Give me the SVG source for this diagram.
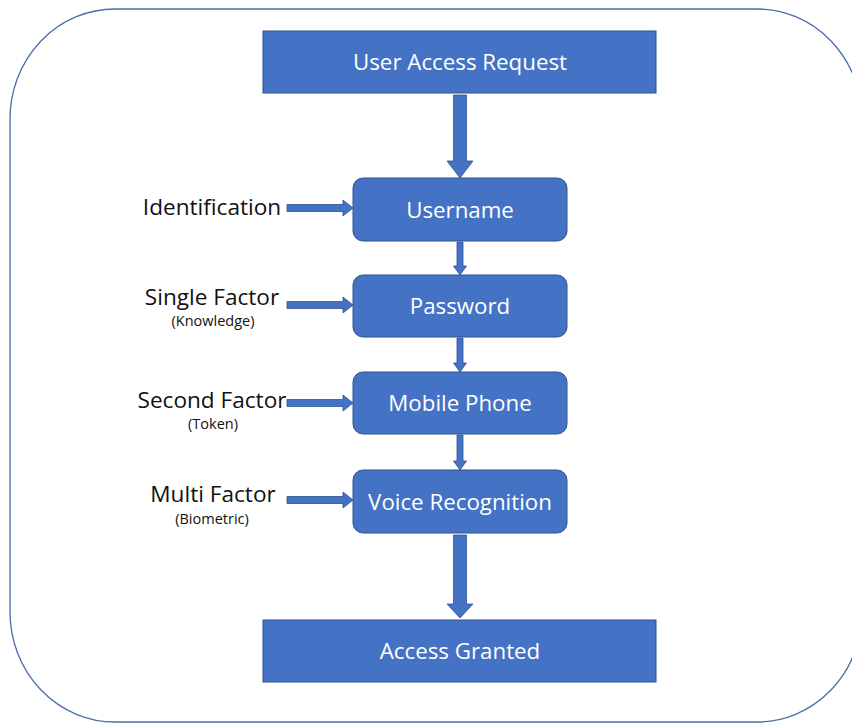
<svg xmlns="http://www.w3.org/2000/svg" width="852" height="724" viewBox="0 0 852 724">
  <defs>
    <style>
      .frame { fill: #ffffff; stroke: #4a6ea8; stroke-width: 1.3; }
      .box { fill: #4472c4; stroke: #2f528f; stroke-width: 1; }
      .arrow { fill: #4472c4; stroke: #2f528f; stroke-width: 0.8; }
      .nodetxt { font-family: "Open Sans", "Noto Sans", sans-serif; font-size: 22.3px; fill: #ffffff; text-anchor: middle; dominant-baseline: central; }
      .lbl { font-family: "Open Sans", "Noto Sans", sans-serif; font-size: 22.6px; fill: #111111; text-anchor: middle; dominant-baseline: central; }
      .sub { font-family: "Open Sans", "Noto Sans", sans-serif; font-size: 14.5px; fill: #111111; text-anchor: middle; dominant-baseline: central; }
    </style>
  </defs>

  <rect width="852" height="724" fill="#ffffff"/>
  <!-- outer rounded frame -->
  <rect class="frame" x="10" y="9" width="852" height="713" rx="105" ry="110"/>

  <!-- connectors -->
  <g id="connectors">
    <!-- main flow, large arrows -->
    <polygon class="arrow" points="453.5,95 466.5,95 466.5,161 473,161 460,178 447,161 453.5,161"/>
    <polygon class="arrow" points="453.5,535 466.5,535 466.5,604 473,604 460,618 447,604 453.5,604"/>
    <!-- main flow, small arrows -->
    <polygon class="arrow" points="457,242 463,242 463,266 466.5,266 460,275 453.5,266 457,266"/>
    <polygon class="arrow" points="457,338 463,338 463,363 466.5,363 460,372 453.5,363 457,363"/>
    <polygon class="arrow" points="457,435 463,435 463,461 466.5,461 460,470 453.5,461 457,461"/>
    <!-- factor inputs -->
    <polygon class="arrow" points="287,204.5 343,204.5 343,200 353,208 343,216 343,211.5 287,211.5"/>
    <polygon class="arrow" points="287,301.5 343,301.5 343,297 353,305 343,313 343,308.5 287,308.5"/>
    <polygon class="arrow" points="287,399.5 343,399.5 343,395 353,403 343,411 343,406.5 287,406.5"/>
    <polygon class="arrow" points="287,496.5 343,496.5 343,492 353,500 343,508 343,503.5 287,503.5"/>
  </g>

  <g id="node-request">
    <rect class="box" x="263" y="31" width="393" height="62"/>
    <text class="nodetxt" x="460" y="61">User Access Request</text>
  </g>
  <g id="node-username">
    <rect class="box" x="353" y="178" width="214" height="63" rx="10"/>
    <text class="nodetxt" x="460" y="209">Username</text>
  </g>
  <g id="node-password">
    <rect class="box" x="353" y="275" width="214" height="62" rx="10"/>
    <text class="nodetxt" x="460" y="305">Password</text>
  </g>
  <g id="node-mobile">
    <rect class="box" x="353" y="372" width="214" height="62" rx="10"/>
    <text class="nodetxt" x="460" y="402">Mobile Phone</text>
  </g>
  <g id="node-voice">
    <rect class="box" x="353" y="470" width="214" height="63" rx="10"/>
    <text class="nodetxt" x="460" y="501">Voice Recognition</text>
  </g>
  <g id="node-granted">
    <rect class="box" x="263" y="620" width="393" height="62"/>
    <text class="nodetxt" x="460" y="650">Access Granted</text>
  </g>

  <g id="label-identification">
    <text class="lbl" x="212" y="206">Identification</text>
  </g>
  <g id="label-single">
    <text class="lbl" x="212" y="296">Single Factor</text>
    <text class="sub" x="213" y="320">(Knowledge)</text>
  </g>
  <g id="label-second">
    <text class="lbl" x="212" y="399">Second Factor</text>
    <text class="sub" x="213" y="423">(Token)</text>
  </g>
  <g id="label-multi">
    <text class="lbl" x="213" y="493">Multi Factor</text>
    <text class="sub" x="212" y="518">(Biometric)</text>
  </g>
</svg>
